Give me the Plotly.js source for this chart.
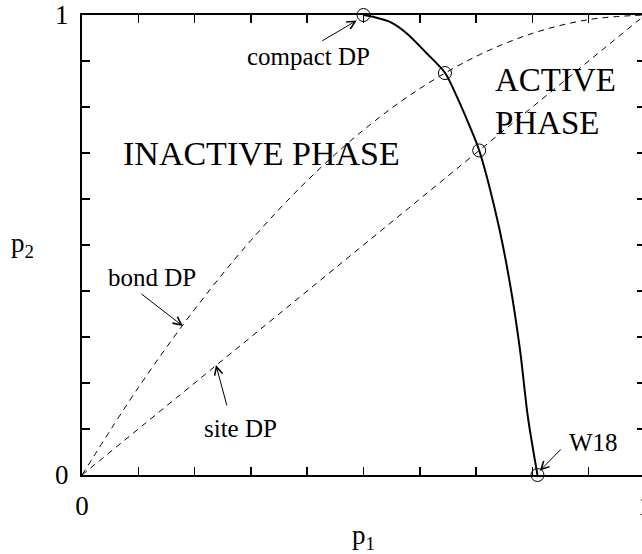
<!DOCTYPE html>
<html>
<head>
<meta charset="utf-8">
<script src="https://cdn.plot.ly/plotly-3.0.1.min.js"></script>
<style>
html,body{margin:0;padding:0;background:#fff;overflow:hidden;width:642px;height:554px;}
#chart{width:680px;height:554px;}
</style>
</head>
<body>
<div id="chart"></div>
<script>
// Phase boundary (solid line)
const boundaryP1 = [0.500, 0.517, 0.547, 0.577, 0.612, 0.645, 0.666, 0.689, 0.7055, 0.739, 0.760, 0.778, 0.792, 0.809];
const boundaryP2 = [1.000, 0.996, 0.985, 0.960, 0.917, 0.874, 0.822, 0.757, 0.7055, 0.548, 0.417, 0.272, 0.126, 0.000];

// bond DP dashed curve
const bondP1 = [0, 0.1, 0.2, 0.3, 0.4, 0.5, 0.6, 0.7, 0.8, 0.9, 1.0];
const bondP2 = [0, 0.19, 0.36, 0.51, 0.64, 0.75, 0.84, 0.91, 0.96, 0.99, 1.0];

// site DP dashed line
const siteP1 = [0, 1];
const siteP2 = [0, 1];

// special points (circles)
const pointNames = ["compact DP", "bond DP", "site DP", "W18"];
const pointP1 = [0.5, 0.6447, 0.7055, 0.809];
const pointP2 = [1.0, 0.8738, 0.7055, 0.0];

// tick labels
const tickVals = [0, 0.1, 0.2, 0.3, 0.4, 0.5, 0.6, 0.7, 0.8, 0.9, 1];
const tickText = ["0", "", "", "", "", "", "", "", "", "", "1"];

// label annotations
const labelTexts = ["compact DP", "bond DP", "site DP", "W18"];
const labelP1 = [0.403, 0.124, 0.281, 0.908];
const labelP2 = [0.909, 0.430, 0.102, 0.070];
// arrows: head and tail
const arrowHeadP1 = [0.488, 0.179, 0.238, 0.813];
const arrowHeadP2 = [0.988, 0.324, 0.239, 0.009];
const arrowTailP1 = [0.424, 0.103, 0.258, 0.853];
const arrowTailP2 = [0.942, 0.396, 0.148, 0.059];

const FONT = "'Liberation Serif', 'Times New Roman', serif";

const traces = [
  {x: bondP1, y: bondP2, mode: "lines", line: {color: "#000", width: 1, dash: "6px,5px", shape: "spline"}, hoverinfo: "skip"},
  {x: siteP1, y: siteP2, mode: "lines", line: {color: "#000", width: 1, dash: "6px,5px"}, hoverinfo: "skip"},
  {x: boundaryP1, y: boundaryP2, mode: "lines", line: {color: "#000", width: 2, shape: "spline", smoothing: 0.8}, hoverinfo: "skip"},
  {x: pointP1, y: pointP2, mode: "markers", text: pointNames, cliponaxis: false,
   marker: {symbol: "circle-open", size: 13, color: "#000", line: {width: 1, color: "#000"}}, hoverinfo: "text"}
];

const annotations = [];
for (let i = 0; i < labelTexts.length; i++) {
  annotations.push({x: labelP1[i], y: labelP2[i], xref: "x", yref: "y", text: labelTexts[i],
    showarrow: false, font: {family: FONT, size: 25, color: "#000"}});
  annotations.push({x: arrowHeadP1[i], y: arrowHeadP2[i], ax: arrowTailP1[i], ay: arrowTailP2[i],
    xref: "x", yref: "y", axref: "x", ayref: "y", text: "", showarrow: true,
    arrowhead: 5, arrowsize: 1.6, arrowwidth: 1, arrowcolor: "#000", standoff: 0});
}
annotations.push({x: 0.319, y: 0.698, xref: "x", yref: "y", text: "INACTIVE PHASE", showarrow: false,
  font: {family: FONT, size: 34, color: "#000"}});
annotations.push({x: 0.730, y: 0.811, xref: "x", yref: "y", text: "ACTIVE<br>PHASE", showarrow: false,
  xanchor: "left", align: "left", font: {family: FONT, size: 33, color: "#000"}});
annotations.push({x: -0.105, y: 0.5, xref: "paper", yref: "paper", text: "p<sub>2</sub>", showarrow: false,
  xanchor: "center", yanchor: "middle", font: {family: FONT, size: 27, color: "#000"}});

const axisCommon = {
  range: [0, 1], tickvals: tickVals, ticktext: tickText, ticks: "inside", ticklen: 8, tickwidth: 1.5,
  tickcolor: "#000", showline: true, linecolor: "#000", linewidth: 2, mirror: "ticks",
  showgrid: false, zeroline: false, tickfont: {family: FONT, size: 27, color: "#000"}
};

const layout = {
  width: 680, height: 554,
  margin: {l: 82, r: 35, t: 15, b: 79},
  paper_bgcolor: "#fff", plot_bgcolor: "#fff",
  showlegend: false,
  font: {family: FONT, color: "#000"},
  xaxis: Object.assign({}, axisCommon, {ticklabelstandoff: 6,
    title: {text: "p<sub>1</sub>", font: {family: FONT, size: 27, color: "#000"}, standoff: 14}}),
  yaxis: Object.assign({}, axisCommon, {ticklabelstandoff: 6}),
  annotations: annotations
};

Plotly.newPlot("chart", traces, layout, {displayModeBar: false, staticPlot: true});
</script>
</body>
</html>
